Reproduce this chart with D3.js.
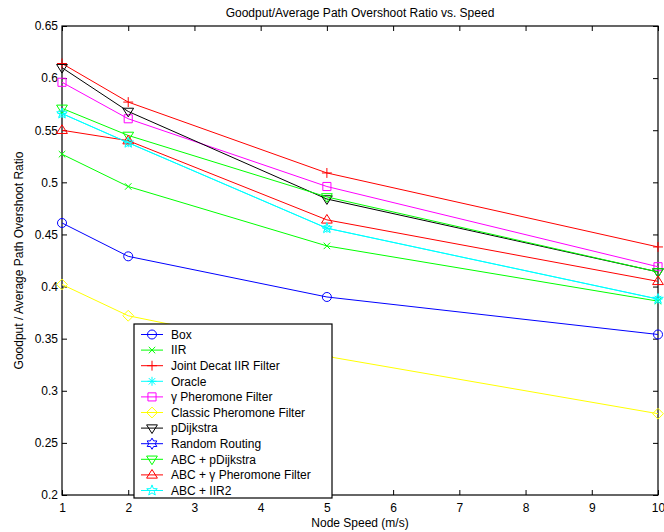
<!DOCTYPE html>
<html>
<head>
<meta charset="utf-8">
<script src="https://cdn.jsdelivr.net/npm/d3@7"></script>
<style>
  body { margin: 0; background: #fff; }
  text { font-family: "Liberation Sans", Arial, Helvetica, sans-serif; }
</style>
</head>
<body>
<svg id="chart"></svg>
<script>
(function(d3) {
  "use strict";

  // node speeds (m/s)
  var speeds = [1, 2, 5, 10];

  var seriesNames = [
    "Box", "IIR", "Joint Decat IIR Filter", "Oracle", "\u03b3 Pheromone Filter",
    "Classic Pheromone Filter", "pDijkstra", "Random Routing", "ABC + pDijkstra",
    "ABC + \u03b3 Pheromone Filter", "ABC + IIR2"
  ];

  var box        = [0.461, 0.429, 0.390, 0.354];
  var iir        = [0.527, 0.496, 0.439, 0.386];
  var jointDecat = [0.614, 0.577, 0.509, 0.438];
  var oracle     = [0.566, 0.538, 0.456, 0.388];
  var gammaPher  = [0.596, 0.561, 0.496, 0.419];
  var classic    = [0.402, 0.372, 0.333, 0.278];
  var pDijkstra  = [0.610, 0.568, 0.484, 0.414];
  var randomRt   = [0.150, 0.140, 0.120, 0.100]; // below the visible range
  var abcPDij    = [0.571, 0.545, 0.486, 0.414];
  var abcGamma   = [0.550, 0.540, 0.464, 0.405];
  var abcIIR2    = [0.566, 0.538, 0.456, 0.388];

  var yTicks = [0.2, 0.25, 0.3, 0.35, 0.4, 0.45, 0.5, 0.55, 0.6, 0.65];
  var xTicks = [1, 2, 3, 4, 5, 6, 7, 8, 9, 10];

  var seriesValues = [box, iir, jointDecat, oracle, gammaPher, classic,
                      pDijkstra, randomRt, abcPDij, abcGamma, abcIIR2];
  var colors = ["#0000ff", "#00ff00", "#ff0000", "#00ffff", "#ff00ff", "#ffff00",
                "#000000", "#0000ff", "#00ff00", "#ff0000", "#00ffff"];
  var markers = ["o", "x", "+", "*", "s", "d", "v", "h", "v", "^", "p"];

  var series = seriesNames.map(function(n, i) {
    return { name: n, values: seriesValues[i], color: colors[i], marker: markers[i] };
  });

  var width = 664, height = 532;
  var plot = { left: 62, right: 658, top: 26, bottom: 495 };

  var svg = d3.select("#chart")
    .attr("width", width)
    .attr("height", height);

  var x = d3.scaleLinear().domain([1, 10]).range([plot.left, plot.right]);
  var y = d3.scaleLinear().domain([0.2, 0.65]).range([plot.bottom, plot.top]);

  var fmt = function(v) { return String(+v.toFixed(2)); };

  // marker paths, matlab style (all open)
  function markerPath(m, s) {
    var p = d3.path();
    var i, a, r;
    switch (m) {
      case "o":
        p.arc(0, 0, s * 0.5, 0, 2 * Math.PI); break;
      case "x":
        r = s * 0.36;
        p.moveTo(-r, -r); p.lineTo(r, r); p.moveTo(-r, r); p.lineTo(r, -r); break;
      case "+":
        r = s * 0.55;
        p.moveTo(-r, 0); p.lineTo(r, 0); p.moveTo(0, -r); p.lineTo(0, r); break;
      case "*":
        r = s * 0.5;
        p.moveTo(-r, 0); p.lineTo(r, 0); p.moveTo(0, -r); p.lineTo(0, r);
        r = r * 0.72;
        p.moveTo(-r, -r); p.lineTo(r, r); p.moveTo(-r, r); p.lineTo(r, -r); break;
      case "s":
        r = s * 0.45;
        p.rect(-r, -r, 2 * r, 2 * r); break;
      case "d":
        r = s * 0.6;
        p.moveTo(0, -r); p.lineTo(r, 0); p.lineTo(0, r); p.lineTo(-r, 0); p.closePath(); break;
      case "v":
        r = s * 0.6;
        p.moveTo(-r, -r * 0.6); p.lineTo(r, -r * 0.6); p.lineTo(0, r); p.closePath(); break;
      case "^":
        r = s * 0.6;
        p.moveTo(-r, r * 0.6); p.lineTo(r, r * 0.6); p.lineTo(0, -r); p.closePath(); break;
      case "p":
      case "h":
        var n = m === "p" ? 5 : 6;
        var outer = s * 0.62, inner = outer * (m === "p" ? 0.42 : 0.577);
        for (i = 0; i < 2 * n; i++) {
          a = -Math.PI / 2 + i * Math.PI / n;
          r = i % 2 ? inner : outer;
          if (i === 0) p.moveTo(r * Math.cos(a), r * Math.sin(a));
          else p.lineTo(r * Math.cos(a), r * Math.sin(a));
        }
        p.closePath(); break;
    }
    return p.toString();
  }

  var markerSize = 9;

  // axes with inward ticks on all four sides
  svg.append("g")
    .attr("class", "x axis")
    .attr("transform", "translate(0," + plot.bottom + ")")
    .call(d3.axisBottom(x).tickValues(xTicks).tickSize(-5).tickPadding(8).tickFormat(d3.format("d")));
  svg.append("g")
    .attr("transform", "translate(0," + plot.top + ")")
    .call(d3.axisTop(x).tickValues(xTicks).tickSize(-5).tickFormat(""));
  svg.append("g")
    .attr("class", "y axis")
    .attr("transform", "translate(" + plot.left + ",0)")
    .call(d3.axisLeft(y).tickValues(yTicks).tickSize(-5).tickPadding(4).tickFormat(fmt));
  svg.append("g")
    .attr("transform", "translate(" + plot.right + ",0)")
    .call(d3.axisRight(y).tickValues(yTicks).tickSize(-5).tickFormat(""));

  svg.selectAll(".domain").remove();
  svg.selectAll(".tick line").attr("stroke", "#000");
  svg.selectAll(".tick text")
    .attr("fill", "#000")
    .style("font-size", "12px")
    .style("font-family", "'Liberation Sans', Arial, sans-serif");

  svg.append("rect")
    .attr("x", plot.left)
    .attr("y", plot.top)
    .attr("width", plot.right - plot.left)
    .attr("height", plot.bottom - plot.top)
    .attr("fill", "none")
    .attr("stroke", "#000")
    .attr("stroke-width", 1.2);

  svg.append("clipPath")
    .attr("id", "clip")
    .append("rect")
    .attr("x", plot.left)
    .attr("y", plot.top)
    .attr("width", plot.right - plot.left)
    .attr("height", plot.bottom - plot.top);

  var line = d3.line()
    .x(function(d, i) { return x(speeds[i]); })
    .y(function(d) { return y(d); });

  var sg = svg.append("g").attr("class", "series")
    .selectAll("g")
    .data(series)
    .enter()
    .append("g");

  sg.append("path")
    .attr("clip-path", "url(#clip)")
    .attr("d", function(d) { return line(d.values); })
    .attr("fill", "none")
    .attr("stroke", function(d) { return d.color; })
    .attr("stroke-width", 1);

  sg.selectAll(".mk")
    .data(function(d) {
      return d.values
        .map(function(v, i) { return { v: v, s: speeds[i], color: d.color, marker: d.marker }; })
        .filter(function(p) { return p.v >= 0.2 && p.v <= 0.65; });
    })
    .enter()
    .append("path")
    .attr("class", "mk")
    .attr("transform", function(p) { return "translate(" + x(p.s) + "," + y(p.v) + ")"; })
    .attr("d", function(p) { return markerPath(p.marker, markerSize); })
    .attr("fill", "none")
    .attr("stroke", function(p) { return p.color; })
    .attr("stroke-width", 1);

  // titles
  svg.append("text")
    .attr("x", (plot.left + plot.right) / 2)
    .attr("y", 17)
    .attr("text-anchor", "middle")
    .style("font-size", "12px")
    .text("Goodput/Average Path Overshoot Ratio vs. Speed");

  svg.append("text")
    .attr("x", (plot.left + plot.right) / 2)
    .attr("y", 527)
    .attr("text-anchor", "middle")
    .style("font-size", "12px")
    .text("Node Speed (m/s)");

  svg.append("text")
    .attr("transform", "translate(23," + (plot.top + plot.bottom) / 2 + ") rotate(-90)")
    .attr("text-anchor", "middle")
    .style("font-size", "12px")
    .text("Goodput / Average Path Overshoot Ratio");

  // legend
  var lg = svg.append("g").attr("class", "legend")
    .attr("transform", "translate(134,324)");
  lg.append("rect")
    .attr("width", 198)
    .attr("height", 174)
    .attr("fill", "#fff")
    .attr("stroke", "#000")
    .attr("stroke-width", 1.2);

  var row = lg.selectAll(".row")
    .data(series)
    .enter()
    .append("g")
    .attr("class", "row")
    .attr("transform", function(d, i) { return "translate(0," + (10.5 + i * 15.6) + ")"; });
  row.append("line")
    .attr("x1", 7).attr("x2", 29)
    .attr("stroke", function(d) { return d.color; });
  row.append("path")
    .attr("transform", "translate(18,0)")
    .attr("d", function(d) { return markerPath(d.marker, markerSize); })
    .attr("fill", "none")
    .attr("stroke", function(d) { return d.color; });
  row.append("text")
    .attr("x", 37)
    .attr("dy", "0.35em")
    .style("font-size", "12px")
    .text(function(d) { return d.name; });

})(d3);
</script>
</body>
</html>
